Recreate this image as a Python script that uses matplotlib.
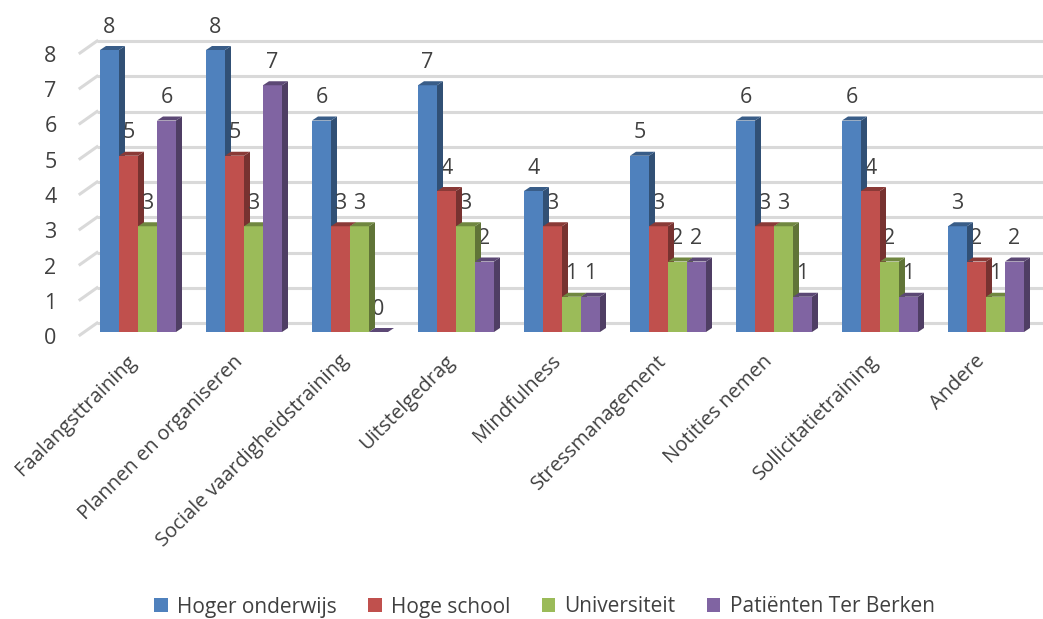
import numpy as np
import matplotlib.pyplot as plt
from matplotlib.patches import Polygon, Patch
from matplotlib.colors import to_rgb
from matplotlib.transforms import ScaledTranslation

categories = ['Faalangsttraining', 'Plannen en organiseren', 'Sociale vaardigheidstraining',
              'Uitstelgedrag', 'Mindfulness', 'Stressmanagement', 'Notities nemen',
              'Sollicitatietraining', 'Andere']
hoger_onderwijs = [8, 8, 6, 7, 4, 5, 6, 6, 3]
hoge_school = [5, 5, 3, 4, 3, 3, 3, 4, 2]
universiteit = [3, 3, 3, 3, 1, 2, 3, 2, 1]
patienten = [6, 7, 0, 2, 1, 2, 1, 1, 2]

series = [('Hoger onderwijs', hoger_onderwijs, '#4F81BD'),
          ('Hoge school', hoge_school, '#C0504D'),
          ('Universiteit', universiteit, '#9BBB59'),
          ('Patiënten Ter Berken', patienten, '#8064A2')]

plt.rcParams['font.family'] = ['Open Sans', 'DejaVu Sans']
text_color = '#404040'

W, H = 1043, 619
fig = plt.figure(figsize=(W / 100, H / 100), dpi=100)

# pixel geometry of the plot: category spacing and value scale
px_cat = 106.0
px_val = 35.25
x0_px, y0_px = 138.0, 332.0
left_px, bottom_px = 58.0, 345.0
ax = fig.add_axes([left_px / W, (H - bottom_px) / H, (W - left_px) / W, bottom_px / H])
ax.set_xlim((left_px - x0_px) / px_cat, (W - x0_px) / px_cat)
ax.set_ylim((y0_px - bottom_px) / px_val, y0_px / px_val)
for s in ax.spines.values():
    s.set_visible(False)
ax.set_xticks([])

# 3D depth offsets (in data units)
bar_dx, bar_dy = 6 / px_cat, 4 / px_val
wall_dy = 9 / px_val
width = 19 / px_cat

# back-wall gridlines with the short diagonal at the side wall
grid_start = (97 - x0_px) / px_cat
diag_start = (80 - x0_px) / px_cat
for v in range(9):
    ax.plot([grid_start, ax.get_xlim()[1]], [v + wall_dy, v + wall_dy],
            color='#d9d9d9', lw=2.2, zorder=1, solid_capstyle='butt')
    ax.plot([diag_start, grid_start], [v - 3 / px_val, v + wall_dy],
            color='#d9d9d9', lw=2.2, zorder=1)


def shade(c, f):
    r, g, b = to_rgb(c)
    return (r * f, g * f, b * f)


x = np.arange(len(categories))
z = 2
for i in range(len(categories)):
    for k, (name, vals, col) in enumerate(series):
        v = vals[i]
        xl = x[i] + (k - 2) * width
        xr = xl + width
        ax.bar(xl, v, width=width, align='edge', color=col, zorder=z, linewidth=0)
        side = Polygon([(xr, 0), (xr + bar_dx, bar_dy), (xr + bar_dx, v + bar_dy), (xr, v)],
                       closed=True, facecolor=shade(col, 0.62), edgecolor='none', zorder=z)
        top = Polygon([(xl, v), (xl + bar_dx, v + bar_dy), (xr + bar_dx, v + bar_dy), (xr, v)],
                      closed=True, facecolor=shade(col, 0.72), edgecolor='none', zorder=z)
        ax.add_patch(side)
        ax.add_patch(top)
        ax.annotate(str(v), (xl + width / 2, v), xytext=(0, 16.5), textcoords='offset points',
                    ha='center', va='center', fontsize=15.5, color=text_color, zorder=10)
        z += 1

# category labels
for i, cat in enumerate(categories):
    ax.annotate(cat, (x[i], 0), xytext=(2, -14), textcoords='offset points',
                rotation=45, ha='right', va='top', fontsize=14.5, color=text_color)

ax.set_yticks(range(9))
ax.set_yticklabels([str(v) for v in range(9)], fontsize=15.5, color=text_color)
ax.tick_params(axis='y', length=0, pad=1)
for lbl in ax.get_yticklabels():
    lbl.set_transform(lbl.get_transform() + ScaledTranslation(0, -0.04, fig.dpi_scale_trans))

handles = [Patch(facecolor=col, label=name) for name, vals, col in series]
fig.legend(handles=handles, loc='center', bbox_to_anchor=(0.522, (H - 607) / H), ncol=4,
           frameon=False, fontsize=15, handlelength=0.65, handleheight=0.65,
           handletextpad=0.45, columnspacing=1.5, labelcolor=text_color)

fig.savefig('out.png', dpi=100)
